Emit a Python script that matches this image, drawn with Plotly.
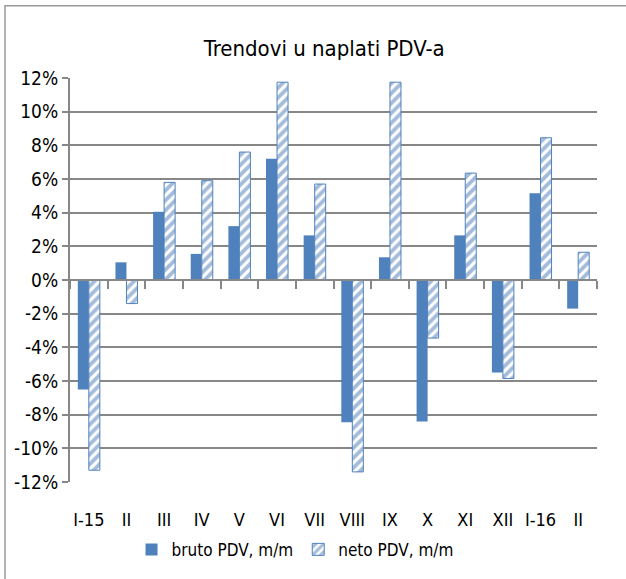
import plotly.graph_objects as go

categories = ["I-15", "II", "III", "IV", "V", "VI", "VII", "VIII", "IX", "X", "XI", "XII", "I-16", "II"]
bruto = [-6.5, 1.05, 4.05, 1.55, 3.2, 7.2, 2.65, -8.45, 1.35, -8.4, 2.65, -5.5, 5.15, -1.7]
neto = [-11.3, -1.4, 5.8, 5.9, 7.6, 11.75, 5.7, -11.4, 11.75, -3.45, 6.35, -5.85, 8.45, 1.65]
y_ticks = [-12, -10, -8, -6, -4, -2, 0, 2, 4, 6, 8, 10, 12]
y_tick_labels = ["-12%", "-10%", "-8%", "-6%", "-4%", "-2%", "0%", "2%", "4%", "6%", "8%", "10%", "12%"]
series_names = ["bruto PDV, m/m", "neto PDV, m/m"]
title_text = "Trendovi u naplati PDV-a"

BLUE = "#4F81BD"
GRAY = "#878787"
FONT = "DejaVu Sans Condensed, DejaVu Sans, sans-serif"

xpos = list(range(len(categories)))

fig = go.Figure()
fig.add_trace(go.Bar(
    x=xpos, y=bruto, name=series_names[0],
    marker=dict(color=BLUE, line=dict(width=0)),
))
fig.add_trace(go.Bar(
    x=xpos, y=neto, name=series_names[1],
    marker=dict(color="white", line=dict(color=BLUE, width=1),
                pattern=dict(shape="/", fgcolor="#4A7AB5", bgcolor="white",
                             size=7, solidity=0.55, fillmode="overlay")),
))
# invisible helper trace so the zero-line category axis is drawn
fig.add_trace(go.Scatter(
    x=xpos, y=[0] * len(xpos), xaxis="x2", mode="markers",
    marker=dict(opacity=0), hoverinfo="skip", showlegend=False,
))

n = len(categories)
fig.update_layout(
    width=626, height=579,
    margin=dict(l=70, r=29, t=78, b=96),
    paper_bgcolor="white", plot_bgcolor="white",
    font=dict(family=FONT, size=18, color="black"),
    title=dict(text=title_text, x=0.518, xanchor="center", y=1 - 48 / 579,
               yanchor="middle", font=dict(family=FONT, size=22, color="black")),
    barmode="group", bargap=0.415, bargroupgap=0,
    showlegend=True,
    legend=dict(orientation="h", x=0.427, xanchor="center", y=-0.165,
                yanchor="middle", font=dict(family=FONT, size=17),
                itemwidth=30, traceorder="normal", bgcolor="rgba(0,0,0,0)"),
    xaxis=dict(range=[-0.5, n - 0.5], tickvals=xpos, ticktext=categories,
               showgrid=False, zeroline=False, showline=False, ticks="",
               ticklabelstandoff=25, tickfont=dict(family=FONT, size=18)),
    xaxis2=dict(range=[-0.5, n - 0.5], overlaying="x", anchor="free", position=0.5,
                side="bottom", showgrid=False, zeroline=False, showline=True,
                linecolor=GRAY, linewidth=2, ticks="outside", ticklen=8,
                tickwidth=2, tickcolor=GRAY,
                tickvals=[i - 0.5 for i in range(n + 1)], showticklabels=False),
    yaxis=dict(range=[-12, 12], tickvals=y_ticks, ticktext=y_tick_labels,
               showgrid=True, gridcolor=GRAY, gridwidth=2, zeroline=False,
               showline=True, linecolor=GRAY, linewidth=2,
               ticks="outside", ticklen=6, tickwidth=2, tickcolor=GRAY,
               tickfont=dict(family=FONT, size=19)),
    shapes=[dict(type="rect", xref="paper", yref="paper",
                 x0=(5 - 70) / 527, x1=(660 - 70) / 527,
                 y0=(483 - 620) / 405, y1=(483 - 5.5) / 405,
                 line=dict(color="#9a9a9a", width=1.5), layer="below")],
)

fig.write_html("out.html", config={"displayModeBar": False},
               post_script="document.body.style.margin='0';")
